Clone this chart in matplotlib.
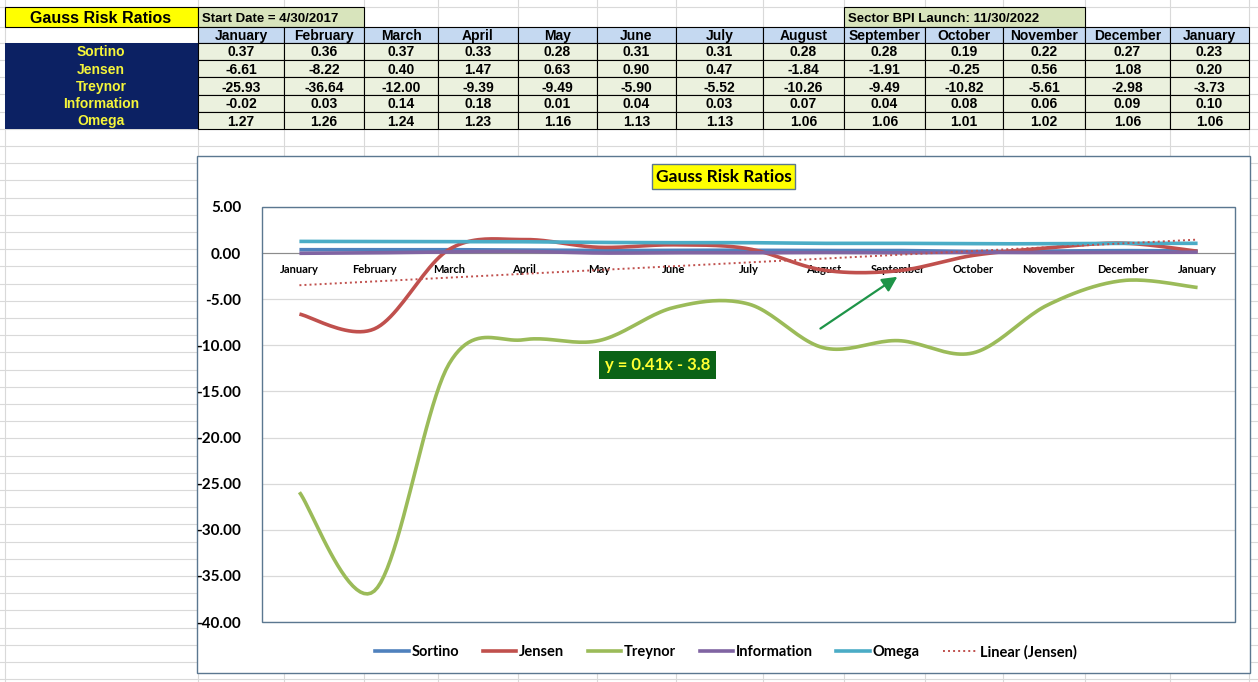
import numpy as np
import matplotlib
matplotlib.use('Agg')
import matplotlib.pyplot as plt
from matplotlib.patches import Rectangle
from matplotlib.lines import Line2D

# data
months = ['January', 'February', 'March', 'April', 'May', 'June', 'July',
          'August', 'September', 'October', 'November', 'December', 'January']
ratio_names = ['Sortino', 'Jensen', 'Treynor', 'Information', 'Omega']
sortino = [0.37, 0.36, 0.37, 0.33, 0.28, 0.31, 0.31, 0.28, 0.28, 0.19, 0.22, 0.27, 0.23]
jensen = [-6.61, -8.22, 0.40, 1.47, 0.63, 0.90, 0.47, -1.84, -1.91, -0.25, 0.56, 1.08, 0.20]
treynor = [-25.93, -36.64, -12.00, -9.39, -9.49, -5.90, -5.52, -10.26, -9.49, -10.82, -5.61, -2.98, -3.73]
information = [-0.02, 0.03, 0.14, 0.18, 0.01, 0.04, 0.03, 0.07, 0.04, 0.08, 0.06, 0.09, 0.10]
omega = [1.27, 1.26, 1.24, 1.23, 1.16, 1.13, 1.13, 1.06, 1.06, 1.01, 1.02, 1.06, 1.06]
series = [sortino, jensen, treynor, information, omega]
colors = ['#4f81bd', '#c0504d', '#9bbb59', '#8064a2', '#4bacc6']

start_text = 'Start Date = 4/30/2017'
launch_text = 'Sector BPI Launch: 11/30/2022'
eq_text = 'y = 0.41x - 3.8'


def smooth(y, n=24):
    # excel style smoothed line (catmull-rom as bezier)
    p = np.column_stack([np.arange(len(y)), y]).astype(float)
    pts = []
    for i in range(len(p) - 1):
        p0 = p[i - 1] if i > 0 else p[i]
        p3 = p[i + 2] if i + 2 < len(p) else p[i + 1]
        c1 = p[i] + (p[i + 1] - p0) / 6
        c2 = p[i + 1] - (p3 - p[i]) / 6
        t = np.linspace(0, 1, n)[:, None]
        seg = ((1 - t) ** 3) * p[i] + 3 * ((1 - t) ** 2) * t * c1 + 3 * (1 - t) * t ** 2 * c2 + t ** 3 * p[i + 1]
        pts.append(seg if i == 0 else seg[1:])
    pts = np.vstack(pts)
    return pts[:, 0], pts[:, 1]


W, H = 1258, 682
fig = plt.figure(figsize=(W / 100, H / 100), dpi=100)

# ---- spreadsheet background (pixel coords) ----
bg = fig.add_axes([0, 0, 1, 1])
bg.set_xlim(0, W)
bg.set_ylim(H, 0)
bg.axis('off')

col_edges = [5, 198, 284, 364, 438, 518, 597, 676, 763, 844, 925, 1003, 1085, 1170, 1249]
row_edges = [7, 27, 43, 60, 77, 95, 112, 129]
grid_rows = [7, 27, 43] + list(np.arange(60, H, 17.2))
grid_c = '#d9d9d9'
for xg in col_edges:
    bg.plot([xg, xg], [0, H], color=grid_c, lw=0.8, zorder=0)
for yg in grid_rows:
    bg.plot([0, W], [yg, yg], color=grid_c, lw=0.8, zorder=0)

tfont = 'Liberation Sans'
# title row
bg.add_patch(Rectangle((5, 7), 193, 20, facecolor='#ffff00', edgecolor='black', lw=0.8, zorder=2))
bg.text(101, 23, 'Gauss Risk Ratios', ha='center', va='baseline', fontsize=11.5,
        fontweight='bold', family=tfont, zorder=3)
bg.add_patch(Rectangle((198, 7), 166, 20, facecolor='#d8e4bc', edgecolor='black', lw=0.8, zorder=2))
bg.text(202, 22, start_text, ha='left', va='baseline', fontsize=9.5, fontweight='bold',
        family=tfont, zorder=3)
bg.add_patch(Rectangle((844, 7), 241, 20, facecolor='#d8e4bc', edgecolor='black', lw=0.8, zorder=2))
bg.text(848, 22, launch_text, ha='left', va='baseline', fontsize=9.5, fontweight='bold',
        family=tfont, zorder=3)

# header row
for j, m in enumerate(months):
    x0, x1 = col_edges[j + 1], col_edges[j + 2]
    bg.add_patch(Rectangle((x0, 27), x1 - x0, 16, facecolor='#c5d9f1', edgecolor='black', lw=0.8, zorder=2))
    bg.text((x0 + x1) / 2, 40, m, ha='center', va='baseline', fontsize=10, fontweight='bold',
            family=tfont, zorder=3)

# label column
bg.add_patch(Rectangle((5, 43), 193, 86, facecolor='#0c2163', edgecolor='none', zorder=2))
for i, name in enumerate(ratio_names):
    y0, y1 = row_edges[i + 2], row_edges[i + 3]
    bg.text(101, y1 - 3.5, name, ha='center', va='baseline', fontsize=10,
            fontweight='bold', color='#f5f53a', family=tfont, zorder=3)
    for j, v in enumerate(series[i]):
        x0, x1 = col_edges[j + 1], col_edges[j + 2]
        bg.add_patch(Rectangle((x0, y0), x1 - x0, y1 - y0, facecolor='#ebf1de', edgecolor='black',
                               lw=0.8, zorder=2))
        bg.text((x0 + x1) / 2, y1 - 3.5, '%.2f' % v, ha='center', va='baseline',
                fontsize=10, fontweight='bold', family=tfont, zorder=3)

# chart area box
frame_c = '#5b7790'
bg.add_patch(Rectangle((197, 156), 1053, 517, facecolor='white', edgecolor=frame_c, lw=1.0, zorder=4))
bg.add_patch(Rectangle((652, 164), 143, 25, facecolor='#ffff00', edgecolor=frame_c, lw=1.0, zorder=5))
bg.text(723.5, 177, 'Gauss Risk Ratios', ha='center', va='center', fontsize=12.5,
        fontweight='bold', family='Lato', zorder=6)

# ---- chart ----
ax = fig.add_axes([262 / W, 1 - 622 / H, 973 / W, 415 / H])
ax.set_zorder(2)
# category axis crosses at zero
ax.spines['bottom'].set_position(('data', 0))
ax.spines['bottom'].set_color('#8c8c8c')
for sp in ['left', 'right', 'top']:
    ax.spines[sp].set_visible(False)

x = np.arange(len(months))
for s, c, name in zip(series, colors, ratio_names):
    sx, sy = smooth(s)
    ax.plot(sx, sy, color=c, lw=2.6, label=name, solid_capstyle='butt', zorder=3)

# linear trendline on Jensen
slope, intercept = np.polyfit(x + 1, jensen, 1)
ax.plot(x, slope * (x + 1) + intercept, color='#c0504d', lw=1.4, linestyle=(0, (1, 1.6)),
        label='Linear (Jensen)', zorder=4)

ax.set_xlim(-0.5, len(months) - 0.5)
ax.set_ylim(-40, 5)
yt = np.arange(-40, 5.1, 5)
ax.set_yticks(yt)
ax.set_yticklabels(['%.2f' % v for v in yt], fontsize=11, fontweight='bold', family='Lato')
ax.set_xticks(x)
ax.set_xticklabels(months, fontsize=8, fontweight='bold', family='Lato')
ax.tick_params(axis='both', length=0)
ax.tick_params(axis='y', pad=15)
ax.tick_params(axis='x', pad=8)
ax.yaxis.grid(True, color='#d9d9d9', lw=0.9)
ax.set_axisbelow(True)
ax.add_patch(Rectangle((0, 0), 1, 1, transform=ax.transAxes, fill=False, edgecolor=frame_c,
                       lw=1.0, clip_on=False, zorder=5))

ax.text(4.79, -12.15, eq_text, ha='center', va='center', fontsize=12, fontweight='bold',
        family='Lato', color='#ffff33',
        bbox=dict(boxstyle='square,pad=0.35', facecolor='#0b6316', edgecolor='none'), zorder=6)
ax.annotate('', xy=(8.02, -2.4), xytext=(6.93, -8.35),
            arrowprops=dict(arrowstyle='-|>,head_length=0.9,head_width=0.45', color='#1e9448',
                            lw=1.6), zorder=6)

handles = [Line2D([], [], color=c, lw=2.6) for c in colors]
handles.append(Line2D([], [], color='#c0504d', lw=1.4, linestyle=(0, (1, 1.6))))
fig.legend(handles, ratio_names + ['Linear (Jensen)'], loc='center', bbox_to_anchor=(726 / W, 1 - 652 / H),
           ncol=6, frameon=False, handlelength=2.3, handletextpad=0.2, columnspacing=1.6,
           prop={'family': 'Lato', 'weight': 'bold', 'size': 10.5})

fig.savefig('out.png', dpi=100)
